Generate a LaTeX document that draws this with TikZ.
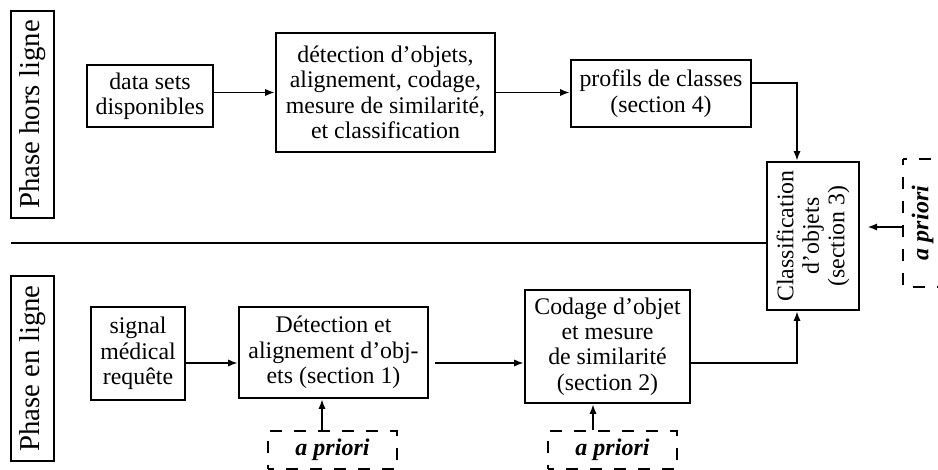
\documentclass[tikz,border=0pt]{standalone}
\usepackage{fontspec}
\setmainfont{Liberation Serif}
\usetikzlibrary{arrows.meta}

\tikzset{
  wh/.style 2 args={minimum width=#1*0.625pt, minimum height=#2*0.625pt},
  bloc/.style={draw, line width=1.5pt, align=center, inner sep=0pt,
    font=\fontsize{14.9}{15.9}\selectfont},
  phase/.style={draw, line width=1.5pt, rotate=90, inner sep=0pt,
    font=\fontsize{18}{20}\selectfont},
  prior/.style={draw, line width=1.5pt, dash pattern=on 8pt off 7pt, dash phase=4pt,
    inner sep=0pt, font=\fontsize{15}{16}\selectfont\bfseries\itshape},
  fleche/.style={line width=1.1pt, -{Latex[length=6pt,width=4.5pt]}},
}

\begin{document}
\begin{tikzpicture}[x=0.625pt, y=-0.625pt]
  \useasboundingbox (0,0) rectangle (938,470);

  \node[phase, wh={207}{43}] (hors) at (32.5,114.5) {Phase hors ligne};
  \node[bloc, wh={126}{62}] (data) at (150,96) {data sets\\disponibles};
  \node[bloc, wh={219}{119}] (tout) at (385.5,92.5) {détection d’objets,\\alignement, codage,\\mesure de similarité,\\et classification};
  \node[bloc, wh={180}{67}] (profils) at (661,93.5) {profils de classes\\(section 4)};
  \node[bloc, rotate=90, wh={148}{92}] (classif) at (813,236) {Classification\\d’objets\\(section 3)};

  \node[phase, wh={185}{43}] (enligne) at (32.5,368.5) {Phase en ligne};
  \node[bloc, wh={94}{93}] (signal) at (138,353.5) {signal\\médical\\requête};
  \node[bloc, wh={189}{91}] (detect) at (333.5,352.5) {Détection et\\alignement d’obj-\\ets (section 1)};
  \node[bloc, wh={165}{113}] (codage) at (607.5,346.5) {Codage d’objet\\et mesure\\de similarité\\(section 2)};
  \node[prior, wh={129}{38}] (prior1) at (332.5,450) {a priori};
  \node[prior, wh={129}{38}] (prior2) at (612.5,450) {a priori};
  \node[prior, rotate=90, wh={128}{39}] (prior3) at (922.5,223) {a priori};

  \coordinate (bord) at (11,243);
  \draw[line width=1.5pt] (bord) -- (bord -| classif.north);

  \draw[fleche] (data.east |- tout.west) -- (tout.west);
  \draw[fleche] (tout.east) -- (tout.east -| profils.west);
  \draw[fleche, line width=1.5pt] ([yshift=6.5pt]profils.east) -| (797,0 |- classif.east);

  \draw[fleche] (signal.east |- 0,363) -- (detect.west |- 0,363);
  \draw[fleche, shorten <=3.5pt] (detect.east |- 0,363) -- (codage.west |- 0,363);
  \draw[fleche, line width=1.5pt] (codage.east |- 0,363) -| (797,0 |- classif.west);
  \draw[fleche] (prior1.north -| 322,0) -- (detect.south -| 322,0);
  \draw[fleche] (prior2.north -| 593,0) -- (codage.south -| 593,0);
  \draw[fleche, shorten >=4.5pt] (prior3.north |- 0,227) -- (classif.south |- 0,227);
\end{tikzpicture}
\end{document}
